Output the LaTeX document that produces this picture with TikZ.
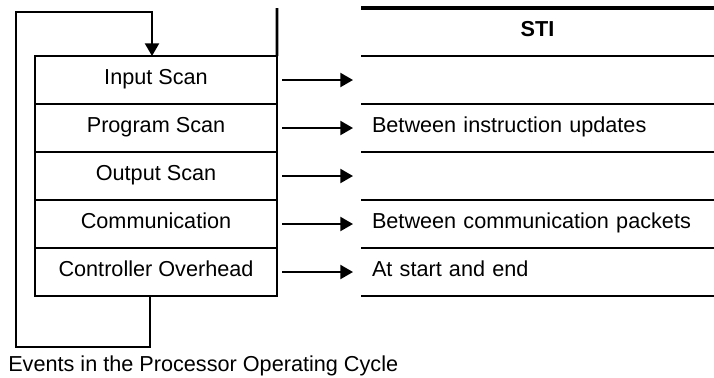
\documentclass[tikz,border=0pt]{standalone}
\usepackage{fontspec}
\setmainfont{Liberation Sans}
\usepackage{tikz}
\usetikzlibrary{arrows.meta, positioning}

\begin{document}
\begin{tikzpicture}[
    stage/.style={draw, line width=1.8pt, outer sep=0pt,
                minimum width=6.05cm, minimum height=1.2cm,
                inner sep=0pt, text height=12pt, text depth=6.3pt,
                font=\fontsize{15.4}{18}\selectfont},
    slot/.style={outer sep=0pt, minimum height=1.2cm,
                text width=8.275cm, inner xsep=0.275cm, inner ysep=0pt,
                text height=12pt, text depth=6.3pt,
                align=left, font=\fontsize{15.4}{18}\selectfont},
    rule/.style={line width=2pt},
    arr/.style={-{Triangle[length=9pt, width=10pt]}, line width=1.4pt}
]
    \useasboundingbox (0,0) rectangle (17.85,-9.425);

    % operating cycle
    \node[stage] (input)    at (3.9,-2.0) {Input Scan};
    \node[stage] (program)  at (3.9,-3.2) {Program Scan};
    \node[stage] (output)   at (3.9,-4.4) {Output Scan};
    \node[stage] (comms)    at (3.9,-5.6) {Communication};
    \node[stage] (overhead) at (3.9,-6.8) {Controller Overhead};

    % STI column
    \node[slot, align=center, font=\fontsize{15.4}{18}\selectfont\bfseries]
        (sti) at (13.4375,-0.8) {STI};
    \node[slot] (inputsti)    at (13.4375,-2.0) {};
    \node[slot] (programsti)  at (13.4375,-3.2) {Between instruction updates};
    \node[slot] (outputsti)   at (13.4375,-4.4) {};
    \node[slot] (commssti)    at (13.4375,-5.6) {Between communication packets};
    \node[slot] (overheadsti) at (13.4375,-6.8) {At start and end};

    \draw[line width=2.6pt] (sti.north west) -- (sti.north east);
    \draw[rule] (sti.south west) -- (sti.south east);
    \draw[rule] (inputsti.south west) -- (inputsti.south east);
    \draw[rule] (programsti.south west) -- (programsti.south east);
    \draw[rule] (outputsti.south west) -- (outputsti.south east);
    \draw[rule] (commssti.south west) -- (commssti.south east);
    \draw[rule] (overheadsti.south west) -- (overheadsti.south east);

    % loop back to the start
    \coordinate (ruletop) at (6.925,-0.2);
    \coordinate (loopbot) at (0.4,-8.675);
    \coordinate (looptop) at (0.4,-0.3);
    \draw[line width=1.8pt] (input.north east) -- (ruletop);
    \draw[arr] ([xshift=-0.15cm]overhead.south) |- (loopbot) -- (looptop)
        -| ([xshift=-0.1cm]input.north);

    \draw[arr, shorten <=0.13cm, shorten >=0.2cm] (input.east)    -- (inputsti.west);
    \draw[arr, shorten <=0.13cm, shorten >=0.2cm] (program.east)  -- (programsti.west);
    \draw[arr, shorten <=0.13cm, shorten >=0.2cm] (output.east)   -- (outputsti.west);
    \draw[arr, shorten <=0.13cm, shorten >=0.2cm] (comms.east)    -- (commssti.west);
    \draw[arr, shorten <=0.13cm, shorten >=0.2cm] (overhead.east) -- (overheadsti.west);

    \node[anchor=base west, inner sep=0pt, font=\fontsize{15.4}{18}\selectfont]
        (caption) at (0.2,-9.29) {Events in the Processor Operating Cycle};
\end{tikzpicture}
\end{document}
